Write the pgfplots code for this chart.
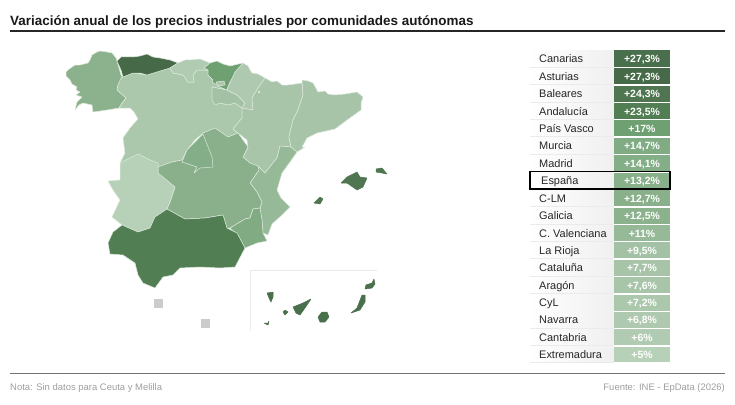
\documentclass[border=0pt]{standalone}
\usepackage{pgfplots}
\pgfplotsset{compat=1.18}
\usepackage{fontspec}
\setmainfont{Liberation Sans}
\definecolor{cCan}{HTML}{4A6F4C}
\definecolor{cAst}{HTML}{466A47}
\definecolor{cBal}{HTML}{4F7650}
\definecolor{cAnd}{HTML}{527E53}
\definecolor{cPV}{HTML}{6FA072}
\definecolor{cMur}{HTML}{80AB83}
\definecolor{cMad}{HTML}{84AE87}
\definecolor{cEsp}{HTML}{88B08B}
\definecolor{cCLM}{HTML}{8AB08B}
\definecolor{cGal}{HTML}{8CB28D}
\definecolor{cVal}{HTML}{96B998}
\definecolor{cRio}{HTML}{A3C2A5}
\definecolor{cCat}{HTML}{A7C4A9}
\definecolor{cAra}{HTML}{A8C5AA}
\definecolor{cCyL}{HTML}{ABC8AD}
\definecolor{cNav}{HTML}{AFC9B0}
\definecolor{cCnt}{HTML}{B1CBB2}
\definecolor{cExt}{HTML}{B7D0B8}
\definecolor{brd}{HTML}{DCE8DC}
\newcommand{\region}[2]{\addplot[draw=brd,line width=0.5bp,fill=#1,line join=round,forget plot] coordinates {#2} --cycle;}
\newcommand{\island}[2]{\addplot[draw=#1,line width=0.5bp,line join=round,fill=#1,forget plot] coordinates {#2} --cycle;}
% top, bottom, centre, name, value, colour
\newcommand{\trow}[6]{%
\addplot[draw=none,left color=white,right color=black!6,forget plot] coordinates {(530,#1)(613.5,#1)(613.5,#2)(530,#2)} --cycle;
\addplot[black!8,line width=0.4bp,forget plot] coordinates {(530,#2+0.6)(613.5,#2+0.6)};
\addplot[draw=none,fill=#6,forget plot] coordinates {(614,#1)(670,#1)(670,#2)(614,#2)} --cycle;
\node[inner sep=0pt,anchor=base west,font=\fontsize{11}{12}\selectfont,text=black!85] at (axis cs:539,#3+4) {#4};
\node[inner sep=0pt,anchor=base,font=\fontsize{10.5}{12}\selectfont\bfseries,text=white] at (axis cs:642,#3+4) {#5};}
\begin{document}
\begin{tikzpicture}[x=1bp,y=1bp]
\path[use as bounding box] (0,0) rectangle (735bp,405bp);
\begin{axis}[at={(0,0)},anchor=south west,scale only axis,width=735bp,height=405bp,
  xmin=0,xmax=735,ymin=0,ymax=405,y dir=reverse,axis line style={draw=none},ticks=none,clip=false,no markers]
% Title and rules
\node[inner sep=0pt,anchor=base west,font=\fontsize{13.5}{16}\selectfont\bfseries,text=black!90] at (axis cs:10,26) {Variación anual de los precios industriales por comunidades autónomas};
\addplot[black!85,line width=1.2bp,forget plot] coordinates {(10,31)(725,31)};
\addplot[black!55,line width=0.8bp,forget plot] coordinates {(10,373)(725,373)};
\node[inner sep=0pt,anchor=base west,font=\fontsize{9.5}{11}\selectfont,text=black!38] at (axis cs:10,390) {Nota: Sin datos para Ceuta y Melilla};
\node[inner sep=0pt,anchor=base east,font=\fontsize{9.5}{11}\selectfont,text=black!38] at (axis cs:725,390) {Fuente: INE - EpData (2026)};
% Map
\region{cGal}{(66,72)(68,70)(75,65)(80,65)(88,63)(90,60)(92,55)(97,52)(100,51)(107,52)(112,53)(116,58)(117,61)(119,68)(121,75)(123,78)(118,85)(117,90)(123,95)(126,98)(122,103)(119,108)(107,110)(100,111)(93,112)(92,105)(83,103)(79,105)(75,110)(77,102)(82,97)(76,95)(80,92)(76,90)(77,87)(72,84)(70,80)(66,76)}
\region{cCyL}{(121,78)(123,77)(133,73)(147,75)(160,71)(170,68)(173,73)(183,75)(188,82)(194,82)(193,75)(197,70)(208,70)(208,75)(213,80)(220,87)(227,90)(212,87)(212,98)(217,103)(220,103)(228,105)(235,103)(242,108)(242,118)(233,129)(238,133)(228,137)(215,128)(203,133)(195,140)(187,150)(182,160)(172,162)(159,167)(150,160)(138,155)(130,160)(120,163)(125,153)(123,138)(130,128)(138,119)(134,112)(130,108)(119,108)(126,98)(117,90)(118,85)}
\region{cAst}{(117,61)(121,57)(133,57)(140,56)(147,54)(153,57)(160,58)(170,60)(178,63)(170,68)(160,71)(147,75)(140,73)(133,73)(123,77)(121,70)}
\region{cCnt}{(178,63)(185,60)(190,60)(200,59)(210,63)(204,68)(208,70)(197,70)(193,75)(194,82)(188,82)(183,75)(173,73)(170,68)}
\region{cPV}{(204,68)(210,63)(217,61)(223,64)(230,66)(243,63)(237,72)(230,82)(228,87)(227,90)(220,87)(212,82)(213,80)(208,75)(208,70)}
\region{cCyL}{(216,82)(224,81)(225,85)(218,86)}
\region{cRio}{(212,87)(227,90)(237,95)(245,103)(242,108)(235,103)(228,105)(220,103)(215,105)(212,100)}
\region{cNav}{(228,87)(235,72)(243,63)(248,66)(250,70)(252,73)(258,74)(265,78)(258,88)(252,98)(253,110)(242,108)(245,103)(237,95)(227,90)}
\region{cAra}{(265,78)(272,82)(277,81)(282,85)(288,85)(302,83)(303,95)(298,110)(293,120)(289,137)(291,147)(280,146)(277,158)(265,173)(258,166)(250,163)(243,157)(248,148)(247,140)(238,133)(233,129)(242,118)(242,108)(253,110)(252,98)(258,88)}
\addplot[draw=none,fill=brd,forget plot] coordinates {(258,91)(260,91)(260,93)(258,93)} --cycle;
\region{cCat}{(302,80)(308,81)(313,83)(318,92)(325,91)(328,94)(335,95)(345,94)(357,92)(363,97)(361,103)(361,110)(347,120)(335,129)(317,133)(307,138)(302,147)(305,147)(297,152)(291,147)(289,137)(293,120)(298,110)(303,95)}
\region{cVal}{(291,147)(297,152)(290,162)(282,173)(277,190)(281,198)(290,207)(282,215)(272,224)(268,235)(263,233)(262,220)(260,208)(262,202)(257,192)(250,183)(259,170)(258,166)(265,173)(277,158)(280,146)}
\region{cCLM}{(203,133)(215,128)(228,137)(238,133)(248,147)(243,157)(250,163)(258,166)(259,170)(250,183)(257,192)(262,202)(260,208)(253,209)(250,218)(245,219)(230,228)(227,228)(223,215)(205,218)(185,219)(167,209)(170,202)(175,187)(163,182)(158,173)(158,167)(172,162)(182,160)}
\region{cMad}{(203,134)(212,157)(213,167)(200,168)(194,173)(197,167)(182,162)(187,150)}
\region{cMur}{(230,228)(245,219)(250,218)(253,209)(260,208)(262,220)(263,233)(267,241)(257,243)(245,248)(238,235)}
\region{cExt}{(108,181)(120,180)(120,163)(138,154)(150,160)(158,163)(158,173)(175,187)(170,202)(167,209)(155,217)(150,228)(138,232)(122,225)(112,217)(120,200)(113,190)}
\region{cAnd}{(108,243)(113,232)(122,225)(138,232)(150,228)(155,217)(167,209)(185,219)(205,218)(223,215)(227,228)(237,233)(245,248)(235,267)(220,268)(200,267)(180,268)(173,275)(163,277)(155,288)(143,283)(138,275)(135,263)(123,255)(110,254)}
% Baleares
\island{cBal}{(341,183)(347,177)(357,172)(360,177)(367,178)(363,187)(357,190)(347,183)}
\island{cBal}{(376,169)(382,168)(387,174)(382,173)(376,172)}
\island{cBal}{(314,203)(320,197)(323,199)(320,204)}
% Canarias inset
\addplot[black!8,line width=0.6bp,forget plot] coordinates {(250,331)(250,270)(377,270)};
\island{cCan}{(267,293)(273,292)(273,297)(271,302)(269,298)}
\island{cCan}{(293,307)(303,303)(311,299)(305,308)(300,315)(296,313)}
\island{cCan}{(283,312)(285,310)(288,312)(285,315)}
\island{cCan}{(264,323)(268,323)(269,321)(268,325)(266,324)}
\island{cCan}{(318,317)(322,312)(327,312)(329,317)(325,322)(320,322)}
\island{cCan}{(351,313)(357,308)(362,295)(365,295)(365,302)(360,310)}
\island{cCan}{(365,289)(366,285)(372,283)(374,279)(375,284)(372,288)}
% Ceuta, Melilla
\addplot[draw=none,fill=black!20,forget plot] coordinates {(154,299)(163,299)(163,308)(154,308)} --cycle;
\addplot[draw=none,fill=black!20,forget plot] coordinates {(201,319)(210,319)(210,328)(201,328)} --cycle;
% Table
\trow{50.5}{66.5}{58.5}{Canarias}{+27,3\%}{cCan}
\trow{68}{84}{76}{Asturias}{+27,3\%}{cAst}
\trow{85.5}{101.5}{93.5}{Baleares}{+24,3\%}{cBal}
\trow{103}{119}{111}{Andalucía}{+23,5\%}{cAnd}
\trow{120}{136}{128}{País Vasco}{+17\%}{cPV}
\trow{137.5}{153.5}{145.5}{Murcia}{+14,7\%}{cMur}
\trow{155}{171}{163}{Madrid}{+14,1\%}{cMad}
\trow{172.5}{188.5}{180}{\hspace{2bp}España}{+13,2\%}{cEsp}
\trow{190}{206}{198}{C-LM}{+12,7\%}{cCLM}
\trow{207.5}{223.5}{215.5}{Galicia}{+12,5\%}{cGal}
\trow{225}{241}{233}{C. Valenciana}{+11\%}{cVal}
\trow{242}{258}{250}{La Rioja}{+9,5\%}{cRio}
\trow{259.5}{275.5}{267.5}{Cataluña}{+7,7\%}{cCat}
\trow{277}{293}{285}{Aragón}{+7,6\%}{cAra}
\trow{294.5}{310.5}{302.5}{CyL}{+7,2\%}{cCyL}
\trow{311.5}{327.5}{319.5}{Navarra}{+6,8\%}{cNav}
\trow{329}{345}{337}{Cantabria}{+6\%}{cCnt}
\trow{346.5}{362}{354.5}{Extremadura}{+5\%}{cExt}
\addplot[black,line width=1.4bp,forget plot] coordinates {(530,171.5)(670,171.5)(670,189)(530,189)} --cycle;
\end{axis}
\end{tikzpicture}
\end{document}
